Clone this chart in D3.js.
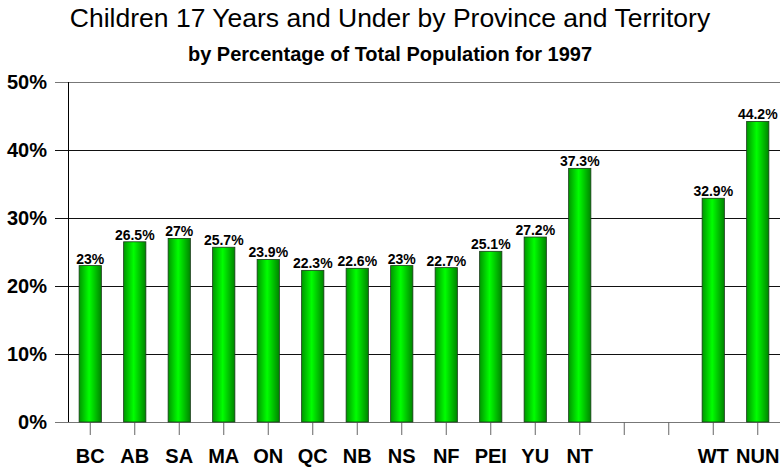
<!DOCTYPE html>
<html>
<head>
<meta charset="utf-8">
<script src="https://cdn.jsdelivr.net/npm/d3@7"></script>
<style>
  body { margin: 0; background: #fff; }
  svg { display: block; font-family: "Liberation Sans", Arial, sans-serif; }
</style>
</head>
<body>
<div id="chart"></div>
<script>
// Chart data
const categories = ["BC", "AB", "SA", "MA", "ON", "QC", "NB", "NS", "NF", "PEI", "YU", "NT", "gap1", "gap2", "WT", "NUN"];
const tickLabels = ["BC", "AB", "SA", "MA", "ON", "QC", "NB", "NS", "NF", "PEI", "YU", "NT", "", "", "WT", "NUN"];
const values = [23, 26.5, 27, 25.7, 23.9, 22.3, 22.6, 23, 22.7, 25.1, 27.2, 37.3, null, null, 32.9, 44.2];
const yTicks = [0, 10, 20, 30, 40, 50];

const width = 780, height = 468;
const margin = { top: 82, right: 0, bottom: 46, left: 68 };
const innerW = width - margin.left - margin.right,
      innerH = height - margin.top - margin.bottom;

const svg = d3.select("#chart")
    .append("svg")
    .attr("width", width)
    .attr("height", height);

// bar gradient
const grad = svg.append("defs").append("linearGradient")
    .attr("id", "barGrad")
    .attr("x1", "0%").attr("x2", "100%").attr("y1", "0%").attr("y2", "0%");
grad.append("stop").attr("offset", "0%").attr("stop-color", "#009600");
grad.append("stop").attr("offset", "45%").attr("stop-color", "#00ff00");
grad.append("stop").attr("offset", "100%").attr("stop-color", "#008400");

const g = svg.append("g")
    .attr("transform", `translate(${margin.left},${margin.top})`);

const x = d3.scaleBand()
    .domain(categories)
    .range([0, innerW])
    .paddingInner(0.5)
    .paddingOuter(0.25);

const y = d3.scaleLinear()
    .domain([0, 50])
    .range([innerH, 0]);

// gridlines (extend left past the axis as ticks)
g.append("g")
    .selectAll("line")
    .data(yTicks)
    .enter()
    .append("line")
    .attr("x1", -13)
    .attr("x2", innerW)
    .attr("y1", d => y(d))
    .attr("y2", d => y(d))
    .attr("stroke", d => (d === 0 || d === 50) ? "#777" : "#111")
    .attr("stroke-width", 1)
    .attr("shape-rendering", "crispEdges");

// y tick labels
g.append("g")
    .selectAll("text")
    .data(yTicks)
    .enter()
    .append("text")
    .attr("x", -21)
    .attr("y", d => y(d) + 7)
    .attr("text-anchor", "end")
    .attr("font-size", 20)
    .attr("font-weight", "bold")
    .text(d => d + "%");

// y axis line
g.append("line")
    .attr("x1", 0).attr("x2", 0)
    .attr("y1", 0).attr("y2", innerH)
    .attr("stroke", "#000")
    .attr("shape-rendering", "crispEdges");

// bottom axis
const xAxis = g.append("g")
    .attr("transform", `translate(0,${innerH})`)
    .call(d3.axisBottom(x)
        .tickSize(13)
        .tickPadding(14)
        .tickFormat((d, i) => tickLabels[i]));
xAxis.select(".domain").remove();
xAxis.selectAll(".tick line").attr("stroke", "#666");
xAxis.selectAll(".tick text")
    .attr("font-family", "Liberation Sans, Arial, sans-serif")
    .attr("font-size", 20)
    .attr("font-weight", "bold")
    .attr("fill", "#000");

// bars
const barData = categories.map((c, i) => ({ cat: c, value: values[i] }))
    .filter(d => d.value !== null);

g.selectAll("rect.bar")
    .data(barData)
    .enter()
    .append("rect")
    .attr("class", "bar")
    .attr("x", d => x(d.cat))
    .attr("y", d => y(d.value))
    .attr("width", x.bandwidth())
    .attr("height", d => innerH - y(d.value))
    .attr("fill", "url(#barGrad)")
    .attr("stroke", "#1a3a1a")
    .attr("stroke-width", 0.8);

// value labels
g.selectAll("text.val")
    .data(barData)
    .enter()
    .append("text")
    .attr("class", "val")
    .attr("x", d => x(d.cat) + x.bandwidth() / 2)
    .attr("y", d => y(d.value) - 2)
    .attr("text-anchor", "middle")
    .attr("font-size", 14)
    .attr("font-weight", "bold")
    .text(d => d.value + "%");

// titles
svg.append("text")
    .attr("x", 390)
    .attr("y", 27)
    .attr("text-anchor", "middle")
    .attr("font-size", 26.5)
    .text("Children 17 Years and Under by Province and Territory");

svg.append("text")
    .attr("x", 390)
    .attr("y", 61)
    .attr("text-anchor", "middle")
    .attr("font-size", 20)
    .attr("font-weight", "bold")
    .text("by Percentage of Total Population for 1997");
</script>
</body>
</html>
